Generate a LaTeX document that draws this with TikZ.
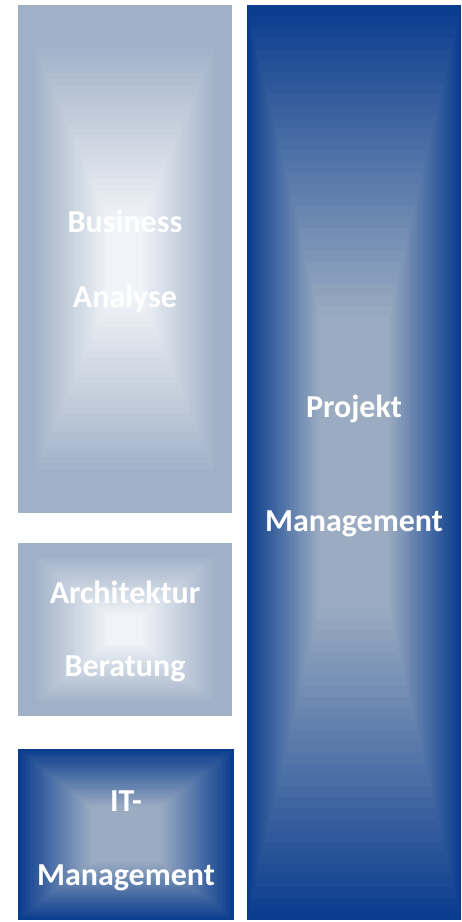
\documentclass[tikz,border=0pt]{standalone}
\usepackage{fontspec}
\setmainfont{Carlito}
\definecolor{greyblue}{HTML}{A0B1C7}
\definecolor{paleblue}{HTML}{F0F3F7}
\definecolor{darkblue}{HTML}{0B3D8E}
\definecolor{midgrey}{HTML}{9AABC2}
\newcommand{\gradbox}[7]{% centre x, centre y, half width, half height, edge, centre colour, profile of \t
  \foreach \i in {0,...,40}{
    \pgfmathsetmacro{\s}{1-\i/41}
    \pgfmathsetmacro{\t}{\i/40}
    \pgfmathsetmacro{\p}{100*(#7)}
    \fill[#6!\p!#5] (#1-\s*#3,#2-\s*#4) rectangle (#1+\s*#3,#2+\s*#4);
  }}
\tikzset{
  boxtext/.style={text=white,font=\bfseries\fontsize{32}{38}\selectfont,inner sep=0pt}
}

\begin{document}
\begin{tikzpicture}[x=1pt,y=-1pt]
    \useasboundingbox[fill=white] (0,0) rectangle (462,922);
    % boxes
    \gradbox{125}{259}{107}{254}{greyblue}{paleblue}{min(1,max(0,(\t-0.15)/0.7))}
    \gradbox{125}{629.3}{107}{86.5}{greyblue}{paleblue}{min(1,max(0,(\t-0.15)/0.7))}
    \gradbox{126}{834.5}{108}{85.5}{darkblue}{midgrey}{min(1,1.45*\t)}
    \gradbox{354}{462.5}{107}{457.5}{darkblue}{midgrey}{min(1,1.45*\t)}
    % labels
    \node[boxtext] (ba1) at (125,221) {Business};
    \node[boxtext] (ba2) at (125,299) {Analyse};
    \node[boxtext] (ab1) at (125,592) {Architektur};
    \node[boxtext] (ab2) at (125,669) {Beratung};
    \node[boxtext] (it1) at (126,801) {IT-};
    \node[boxtext] (it2) at (126,878) {Management};
    \node[boxtext] (pm1) at (354,409) {Projekt};
    \node[boxtext] (pm2) at (354,524) {Management};
\end{tikzpicture}
\end{document}
